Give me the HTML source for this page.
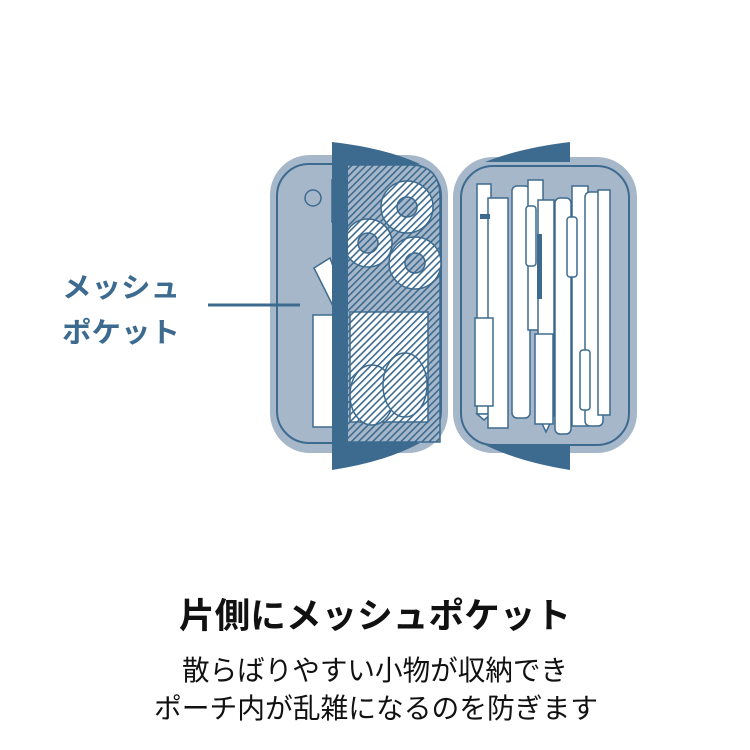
<!DOCTYPE html>
<html><head><meta charset="utf-8"><style>
html,body{margin:0;padding:0;background:#fff;}
svg{display:block;}
</style></head><body>
<svg width="750" height="750" viewBox="0 0 750 750" xmlns="http://www.w3.org/2000/svg">
<defs>
<pattern id="h" patternUnits="userSpaceOnUse" width="5" height="5" patternTransform="rotate(45)">
<rect width="5" height="5" fill="#ffffff"/>
<rect width="1.6" height="5" fill="#3d6b8f"/>
</pattern>
<pattern id="hb" patternUnits="userSpaceOnUse" width="5" height="5" patternTransform="rotate(45)">
<rect width="5" height="5" fill="#a7b7ca"/>
<rect width="1.6" height="5" fill="#3d6b8f"/>
</pattern>
</defs>
<!-- left pouch -->
<rect x="270" y="155" width="178" height="298" rx="40" fill="#a7b7ca"/>
<rect x="277" y="164" width="164" height="279" rx="32" fill="none" stroke="#3d6b8f" stroke-width="2"/>
<!-- left items -->
<path d="M314 268 L330 258 L345 300 L340 320 Z" fill="#fff" stroke="#3d6b8f" stroke-width="1.5"/>
<rect x="313" y="315" width="32" height="112" fill="#fff" stroke="#3d6b8f" stroke-width="1.5"/>
<circle cx="313" cy="198" r="8" fill="none" stroke="#3d6b8f" stroke-width="1.5"/>
<rect x="332" y="180" width="16" height="42" fill="#fff" stroke="#3d6b8f" stroke-width="1.5"/>
<!-- hatched mesh -->
<path d="M346 165 L410 165 Q440 165 440 197 L440 442 L346 442 Z" fill="url(#hb)" stroke="#3d6b8f" stroke-width="1.5"/>
<g fill="url(#h)" stroke="#3d6b8f" stroke-width="1.5">
<circle cx="407" cy="207" r="26"/>
<circle cx="368" cy="243" r="24"/>
<circle cx="415" cy="263" r="26"/>
<rect x="350" y="312" width="78" height="110"/>
<ellipse cx="372" cy="395" rx="22" ry="30"/>
<ellipse cx="405" cy="385" rx="22" ry="32"/>
</g>
<g fill="url(#hb)" stroke="#3d6b8f" stroke-width="1.5">
<circle cx="407" cy="207" r="10"/>
<circle cx="368" cy="243" r="10"/>
<circle cx="415" cy="263" r="10"/>
</g>
<!-- dark flap -->
<path d="M332 142 Q385 148 420 164 L348 164 L348 443 L420 443 Q385 462 332 470 Z" fill="#3d6b8f"/>
<!-- right pouch -->
<rect x="453" y="157" width="184" height="296" rx="40" fill="#a7b7ca"/>
<rect x="461" y="166" width="168" height="279" rx="32" fill="none" stroke="#3d6b8f" stroke-width="2"/>
<path d="M570 142 L570 162 L485 162 Q520 148 570 142 Z" fill="#3d6b8f"/>
<path d="M570 470 L570 445 L485 445 Q520 462 570 470 Z" fill="#3d6b8f"/>
<g fill="#fff" stroke="#3d6b8f" stroke-width="1.5">
<rect x="477" y="184" width="14" height="230"/>
<path d="M477 414 L491 414 L484 420 Z"/>
<rect x="488" y="198" width="20" height="230"/>
<rect x="512" y="186" width="18" height="232" rx="5"/>
<rect x="528" y="180" width="15" height="150"/>
<rect x="538" y="200" width="16" height="215"/>
<path d="M538 415 L554 415 L546 432 Z"/>
<rect x="555" y="198" width="16" height="236" rx="5"/>
<rect x="572" y="186" width="16" height="240"/>
<rect x="585" y="192" width="18" height="234" rx="5"/>
<rect x="598" y="190" width="12" height="225"/>
<rect x="475" y="318" width="18" height="88"/>
<rect x="535" y="334" width="18" height="90"/>
<rect x="580" y="350" width="10" height="60" rx="3"/>
<rect x="526" y="206" width="10" height="60" rx="3"/>
<rect x="567" y="217" width="10" height="60" rx="3"/>
</g>
<rect x="480" y="214" width="10" height="5" fill="#3d6b8f"/>
<rect x="537" y="234" width="5" height="65" fill="#3d6b8f"/>
<!-- label -->
<line x1="208" y1="305" x2="300" y2="305" stroke="#3d6b8f" stroke-width="3"/>
<g font-family="Liberation Sans, Noto Sans CJK JP, sans-serif" font-weight="bold" fill="#3d6b8f" font-size="28">
<text x="62" y="297" textLength="118" lengthAdjust="spacingAndGlyphs">メッシュ</text>
<text x="62" y="342" textLength="118" lengthAdjust="spacingAndGlyphs">ポケット</text>
</g>
<g font-family="Liberation Sans, Noto Sans CJK JP, sans-serif" fill="#111">
<text x="179" y="628" font-size="35" font-weight="bold" textLength="392" lengthAdjust="spacingAndGlyphs">片側にメッシュポケット</text>
<text x="182" y="680" font-size="28" textLength="386" lengthAdjust="spacingAndGlyphs">散らばりやすい小物が収納でき</text>
<text x="154" y="718" font-size="28" textLength="444" lengthAdjust="spacingAndGlyphs">ポーチ内が乱雑になるのを防ぎます</text>
</g>
</svg>
</body></html>
